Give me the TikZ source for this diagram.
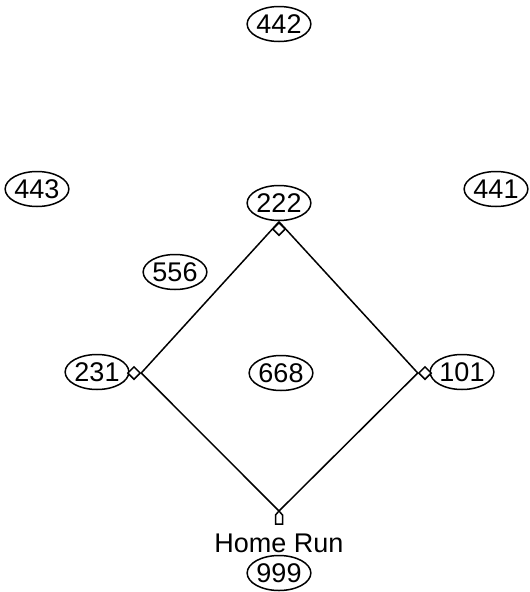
\documentclass[tikz,border=0pt]{standalone}
\usepackage{fontspec}
\setmainfont{Liberation Sans}
\usetikzlibrary{shapes.geometric}
\begin{document}
\begin{tikzpicture}[x=1pt,y=-1pt,
  num/.style={draw,ellipse,line width=1.5pt,minimum width=61pt,minimum height=35pt,inner sep=0pt,font=\fontsize{27}{29}\selectfont},
  base/.style={draw,diamond,line width=1.5pt,minimum width=13pt,minimum height=13pt,inner sep=0pt,fill=white},
  edge/.style={line width=1.5pt}]
\useasboundingbox (0,0) rectangle (530,592);
\node[num] (n442) at (279,24) {442};
\node[num] (n443) at (37,189) {443};
\node[num] (n441) at (496,189) {441};
\node[num] (n222) at (279,203) {222};
\node[num] (n556) at (175,272) {556};
\node[num] (n231) at (97,372) {231};
\node[num] (n668) at (281,373) {668};
\node[num] (n101) at (462,372) {101};
\node[num] (n999) at (279,573) {999};
\node[font=\fontsize{27}{29}\selectfont,anchor=base,inner sep=0pt] (hr) at (279,552) {Home Run};
\node[base] (b2) at (279,229) {};
\node[base] (b1) at (134,373) {};
\node[base] (b3) at (425,373) {};
\coordinate (hp) at (279,511);
\draw[edge] (b2.north) -- (b1.east);
\draw[edge] (b1.east) -- (hp);
\draw[edge] (hp) -- (b3.west);
\draw[edge] (b3.west) -- (b2.north);
\draw[line width=1.5pt,fill=white] (hp) -- ++(3.5,4) -- ++(0,9) -- ++(-7,0) -- ++(0,-9) -- cycle;
\end{tikzpicture}
\end{document}
